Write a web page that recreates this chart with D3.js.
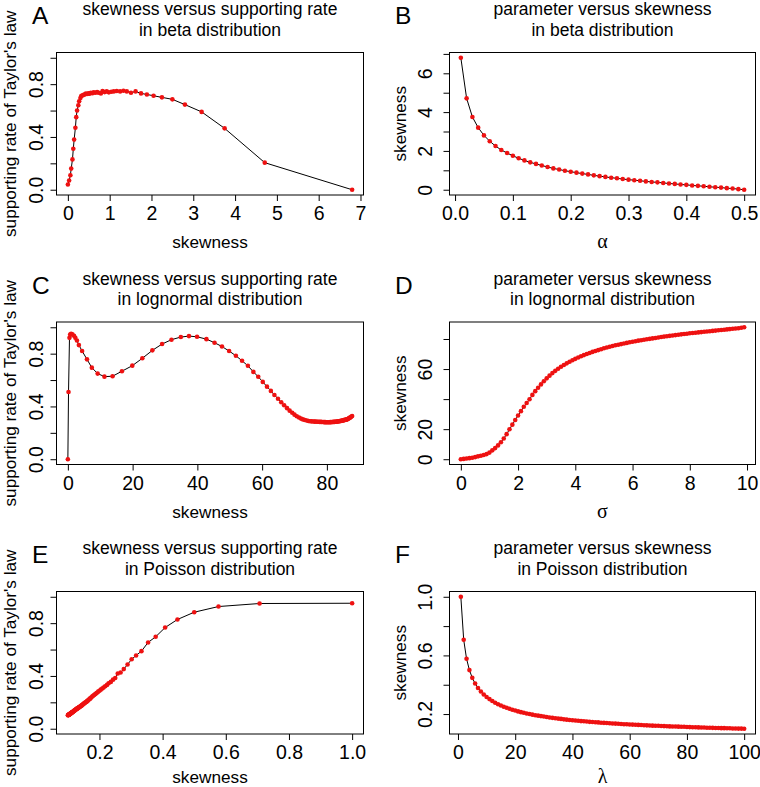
<!DOCTYPE html>
<html><head><meta charset="utf-8">
<script src="https://cdn.jsdelivr.net/npm/d3@7"></script>
<style>body{margin:0;background:#fff}</style>
</head><body>
<svg id="chart" width="760" height="787"></svg>
<script>
// ---------- DATA ----------
const alphaVals = [0.01,0.02,0.03,0.04,0.05,0.06,0.07,0.08,0.09,0.10,0.11,0.12,0.13,0.14,0.15,0.16,0.17,0.18,0.19,0.20,
  0.21,0.22,0.23,0.24,0.25,0.26,0.27,0.28,0.29,0.30,0.31,0.32,0.33,0.34,0.35,0.36,0.37,0.38,0.39,0.40,
  0.41,0.42,0.43,0.44,0.45,0.46,0.47,0.48,0.49,0.50];
const betaSkew = [6.80,4.71,3.75,3.20,2.80,2.50,2.25,2.05,1.89,1.75,1.62,1.51,1.41,1.33,1.25,1.17,1.10,1.04,0.98,0.93,
  0.88,0.83,0.79,0.74,0.70,0.66,0.62,0.59,0.55,0.52,0.49,0.46,0.43,0.40,0.38,0.35,0.32,0.30,0.27,0.25,
  0.22,0.20,0.18,0.15,0.13,0.11,0.08,0.06,0.03,0.00];
const betaRate = [0.000,0.205,0.465,0.590,0.645,0.685,0.700,0.712,0.722,0.730,0.745,0.735,0.745,0.750,0.745,0.748,0.745,0.742,0.738,0.745,
  0.740,0.748,0.730,0.735,0.740,0.735,0.738,0.732,0.735,0.728,0.730,0.725,0.728,0.722,0.720,0.715,0.710,0.695,0.670,0.640,
  0.600,0.550,0.470,0.380,0.310,0.230,0.160,0.110,0.070,0.040];

const sigmaVals = [0.0,0.1,0.2,0.3,0.4,0.5,0.6,0.7,0.8,0.9,1.0,1.1,1.2,1.3,1.4,1.5,1.6,1.7,1.8,1.9,
  2.0,2.1,2.2,2.3,2.4,2.5,2.6,2.7,2.8,2.9,3.0,3.1,3.2,3.3,3.4,3.5,3.6,3.7,3.8,3.9,
  4.0,4.1,4.2,4.3,4.4,4.5,4.6,4.7,4.8,4.9,5.0,5.1,5.2,5.3,5.4,5.5,5.6,5.7,5.8,5.9,
  6.0,6.1,6.2,6.3,6.4,6.5,6.6,6.7,6.8,6.9,7.0,7.1,7.2,7.3,7.4,7.5,7.6,7.7,7.8,7.9,
  8.0,8.1,8.2,8.3,8.4,8.5,8.6,8.7,8.8,8.9,9.0,9.1,9.2,9.3,9.4,9.5,9.6,9.7,9.8,9.9];
const lnSkew = [0.0,0.2,0.5,0.7,1.0,1.4,1.9,2.3,2.8,3.4,4.4,5.9,7.4,9.2,11.3,13.8,16.7,19.9,23.0,26.1,
  29.1,32.0,34.9,37.4,39.9,42.8,45.3,47.6,49.8,51.9,53.8,55.6,57.3,58.8,60.2,61.5,62.7,63.8,64.9,65.9,
  66.8,67.7,68.5,69.3,70.0,70.7,71.4,72.0,72.6,73.2,73.8,74.3,74.8,75.3,75.8,76.2,76.6,77.0,77.4,77.8,
  78.2,78.5,78.9,79.2,79.5,79.8,80.1,80.4,80.7,81.0,81.3,81.6,81.8,82.1,82.3,82.6,82.8,83.1,83.3,83.5,
  83.8,84.0,84.2,84.4,84.6,84.8,85.0,85.2,85.4,85.6,85.8,86.0,86.2,86.4,86.6,86.8,87.0,87.2,87.5,87.8];
const lnRate = [0.000,0.510,0.920,0.945,0.950,0.946,0.936,0.920,0.900,0.865,0.820,0.757,0.694,0.649,0.626,0.629,0.667,0.709,0.765,0.825,
  0.873,0.906,0.926,0.933,0.928,0.910,0.883,0.854,0.820,0.784,0.746,0.708,0.662,0.625,0.586,0.550,0.518,0.487,0.458,0.432,
  0.409,0.387,0.368,0.352,0.338,0.326,0.316,0.308,0.302,0.297,0.293,0.290,0.288,0.287,0.286,0.285,0.285,0.284,0.284,0.283,
  0.283,0.282,0.282,0.281,0.281,0.280,0.280,0.280,0.280,0.281,0.281,0.282,0.282,0.283,0.283,0.284,0.284,0.285,0.286,0.287,
  0.288,0.289,0.290,0.291,0.292,0.293,0.294,0.296,0.297,0.298,0.299,0.300,0.302,0.305,0.307,0.310,0.313,0.316,0.321,0.327];

const lambdaVals = [1,2,3,4,5,6,7,8,9,10,11,12,13,14,15,16,17,18,19,20,21,22,23,24,25,26,27,28,29,30,
  31,32,33,34,35,36,37,38,39,40,41,42,43,44,45,46,47,48,49,50,51,52,53,54,55,56,57,58,59,60,
  61,62,63,64,65,66,67,68,69,70,71,72,73,74,75,76,77,78,79,80,81,82,83,84,85,86,87,88,89,90,
  91,92,93,94,95,96,97,98,99,100];
const poisSkew = [1.000,0.707,0.577,0.500,0.447,0.408,0.378,0.354,0.333,0.316,0.302,0.289,0.277,0.267,0.258,0.250,0.243,0.236,0.229,0.224,
  0.218,0.213,0.209,0.204,0.200,0.196,0.192,0.189,0.186,0.183,0.180,0.177,0.174,0.171,0.169,0.167,0.164,0.162,0.160,0.158,
  0.156,0.154,0.152,0.151,0.149,0.147,0.146,0.144,0.143,0.141,0.140,0.139,0.137,0.136,0.135,0.134,0.132,0.131,0.130,0.129,
  0.128,0.127,0.126,0.125,0.124,0.123,0.122,0.121,0.120,0.120,0.119,0.118,0.117,0.116,0.115,0.115,0.114,0.113,0.113,0.112,
  0.111,0.110,0.110,0.109,0.108,0.108,0.107,0.107,0.106,0.105,0.105,0.104,0.104,0.103,0.103,0.102,0.102,0.101,0.101,0.100];
const poisRate = [0.951,0.949,0.926,0.883,0.828,0.767,0.697,0.654,0.588,0.555,0.527,0.487,0.452,0.426,0.418,0.384,0.372,0.355,0.345,0.332,
  0.322,0.312,0.305,0.296,0.288,0.281,0.273,0.267,0.261,0.256,0.250,0.244,0.237,0.230,0.226,0.221,0.215,0.211,0.207,0.203,
  0.200,0.196,0.193,0.191,0.187,0.183,0.181,0.177,0.175,0.172,0.170,0.168,0.165,0.163,0.162,0.160,0.157,0.155,0.154,0.152,
  0.150,0.149,0.147,0.145,0.143,0.141,0.140,0.138,0.136,0.135,0.134,0.132,0.131,0.129,0.127,0.126,0.125,0.124,0.123,0.121,
  0.120,0.119,0.118,0.117,0.115,0.114,0.113,0.112,0.111,0.110,0.109,0.108,0.107,0.106,0.105,0.105,0.104,0.104,0.103,0.102];

// tick values and labels
const rateTicks = [0,0.2,0.4,0.6,0.8,1.0];
const rateTickLabels = ["0.0","","0.4","","0.8",""];
const aXTicks = [0,1,2,3,4,5,6,7];
const aXTickLabels = ["0","1","2","3","4","5","6","7"];
const bXTicks = [0,0.1,0.2,0.3,0.4,0.5];
const bXTickLabels = ["0.0","0.1","0.2","0.3","0.4","0.5"];
const bYTicks = [0,1,2,3,4,5,6,7];
const bYTickLabels = ["0","","2","","4","","6",""];
const cXTicks = [0,20,40,60,80];
const cXTickLabels = ["0","20","40","60","80"];
const dXTicks = [0,2,4,6,8,10];
const dXTickLabels = ["0","2","4","6","8","10"];
const dYTicks = [0,20,40,60,80];
const dYTickLabels = ["0","20","","60",""];
const eXTicks = [0.2,0.4,0.6,0.8,1.0];
const eXTickLabels = ["0.2","0.4","0.6","0.8","1.0"];
const fXTicks = [0,20,40,60,80,100];
const fXTickLabels = ["0","20","40","60","80","100"];
const fYTicks = [0.2,0.4,0.6,0.8,1.0];
const fYTickLabels = ["0.2","","0.6","","1.0"];

const panelLetters = ["A","B","C","D","E","F"];
const titleLine1 = ["skewness versus supporting rate","parameter versus skewness","skewness versus supporting rate","parameter versus skewness","skewness versus supporting rate","parameter versus skewness"];
const titleLine2 = ["in beta distribution","in beta distribution","in lognormal distribution","in lognormal distribution","in Poisson distribution","in Poisson distribution"];
const xLabels = ["skewness","α","skewness","σ","skewness","λ"];
const yLabels = ["supporting rate of Taylor's law","skewness","supporting rate of Taylor's law","skewness","supporting rate of Taylor's law","skewness"];

// ---------- LAYOUT ----------
const FONT = "'Liberation Sans', Arial, Helvetica, sans-serif";
const colX = [[56.5, 363.5],[449.5, 755.5]];
const rowTop = [52.5, 322, 591.5];
const boxH = 142.5;
const yTickOff = [14, 17.5];
const yLabOff = [41, 44];
const letterX = [32, 395];
const xLabOff = [53, 53, 48.5];

const panels = [
  {x: betaSkew, y: betaRate, xt: aXTicks, xl: aXTickLabels, yt: rateTicks, yl: rateTickLabels, ylim:[0,1]},
  {x: alphaVals, y: betaSkew, xt: bXTicks, xl: bXTickLabels, yt: bYTicks, yl: bYTickLabels},
  {x: lnSkew, y: lnRate, xt: cXTicks, xl: cXTickLabels, yt: rateTicks, yl: rateTickLabels, ylim:[0,1]},
  {x: sigmaVals, y: lnSkew, xt: dXTicks, xl: dXTickLabels, yt: dYTicks, yl: dYTickLabels},
  {x: poisSkew, y: poisRate, xt: eXTicks, xl: eXTickLabels, yt: rateTicks, yl: rateTickLabels, ylim:[0,1]},
  {x: lambdaVals, y: poisSkew, xt: fXTicks, xl: fXTickLabels, yt: fYTicks, yl: fYTickLabels}
];

function rDomain(vals){
  const [a,b] = d3.extent(vals);
  const r = b - a;
  return [a - 0.04*r, b + 0.04*r];
}
function rLim(l){ const r = l[1]-l[0]; return [l[0]-0.04*r, l[1]+0.04*r]; }

const svg = d3.select("#chart");
svg.append("rect").attr("width",760).attr("height",787).attr("fill","#fff");

panels.forEach((p, i) => {
  const col = i % 2, row = Math.floor(i/2);
  const [x0, x1] = colX[col];
  const y0 = rowTop[row], y1 = y0 + boxH;
  const xs = d3.scaleLinear().domain(rDomain(p.x)).range([x0, x1]);
  const ys = d3.scaleLinear().domain(p.ylim ? rLim(p.ylim) : rDomain(p.y)).range([y1, y0]);
  const g = svg.append("g");

  const pts = p.x.map((v, k) => [v, p.y[k]]);
  g.append("path").datum(pts)
    .attr("fill","none").attr("stroke","#000").attr("stroke-width",1)
    .attr("d", d3.line().x(d => xs(d[0])).y(d => ys(d[1])));
  g.append("g").selectAll("circle").data(pts).join("circle")
    .attr("cx", d => xs(d[0])).attr("cy", d => ys(d[1])).attr("r", 2.3)
    .attr("fill", "#ee1111");

  // box
  g.append("rect").attr("x", x0).attr("y", y0).attr("width", x1 - x0).attr("height", y1 - y0)
    .attr("fill","none").attr("stroke","#000").attr("stroke-width",1);

  // x axis
  const xa = g.append("g").attr("transform", `translate(0,${y1})`)
    .call(d3.axisBottom(xs).tickValues(p.xt).tickSize(6).tickFormat((d,k)=>p.xl[k]));
  xa.select(".domain").remove();
  xa.selectAll("line").attr("stroke","#000");
  xa.selectAll("text").attr("y", 25).attr("dy", null)
    .attr("font-family", FONT).attr("font-size", 19.5).attr("fill","#000");

  // y axis
  const ya = g.append("g").attr("transform", `translate(${x0},0)`)
    .call(d3.axisLeft(ys).tickValues(p.yt).tickSize(6).tickFormat((d,k)=>p.yl[k]));
  ya.select(".domain").remove();
  ya.selectAll("line").attr("stroke","#000");
  ya.selectAll("text").attr("x", null).attr("dy", null)
    .attr("transform", `translate(${-yTickOff[col]},0) rotate(-90)`)
    .attr("text-anchor","middle")
    .attr("font-family", FONT).attr("font-size", 19.5).attr("fill","#000");

  const cx = (x0 + x1)/2, cy = (y0 + y1)/2;
  // titles
  g.append("text").attr("x", cx).attr("y", y0 - 37.5).attr("text-anchor","middle")
    .attr("font-family", FONT).attr("font-size", 17.5).text(titleLine1[i]);
  g.append("text").attr("x", cx).attr("y", y0 - 17).attr("text-anchor","middle")
    .attr("font-family", FONT).attr("font-size", 17.5).text(titleLine2[i]);
  // panel letter
  g.append("text").attr("x", letterX[col]).attr("y", y0 - 28.3)
    .attr("font-family", FONT).attr("font-size", 24.5).text(panelLetters[i]);
  // x label
  const greek = col === 1;
  g.append("text").attr("x", cx).attr("y", y1 + xLabOff[row]).attr("text-anchor","middle")
    .attr("font-family", greek ? "'Liberation Serif', 'DejaVu Serif', serif" : FONT)
    .attr("font-size", greek ? 20 : 17.2).text(xLabels[i]);
  // y label
  g.append("text").attr("transform", `translate(${x0 - yLabOff[col]},${cy}) rotate(-90)`)
    .attr("text-anchor","middle")
    .attr("font-family", FONT).attr("font-size", 17.2).text(yLabels[i]);
});
</script>
</body></html>
